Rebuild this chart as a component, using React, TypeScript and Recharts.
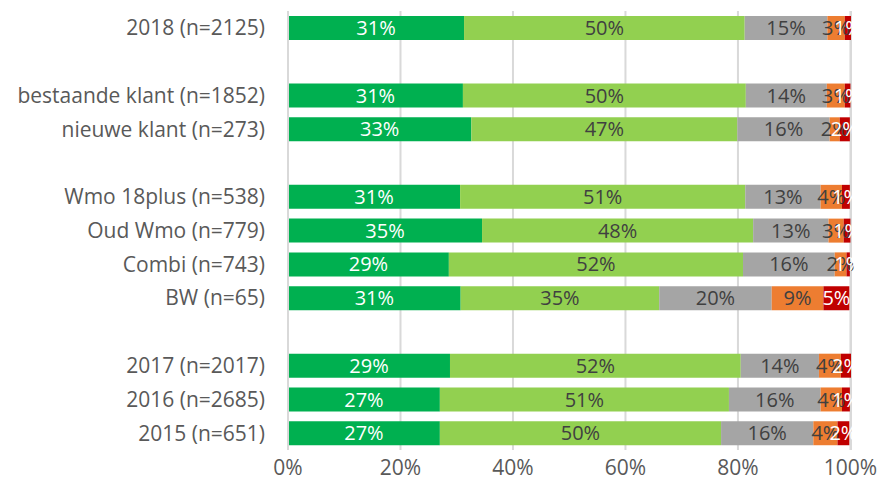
import React from "react";
import { BarChart, Bar, XAxis, YAxis, CartesianGrid, LabelList } from "recharts";

const categories = [
  "2018 (n=2125)",
  "",
  "bestaande klant (n=1852)",
  "nieuwe klant (n=273)",
  "",
  "Wmo 18plus (n=538)",
  "Oud Wmo (n=779)",
  "Combi (n=743)",
  "BW (n=65)",
  "",
  "2017 (n=2017)",
  "2016 (n=2685)",
  "2015 (n=651)",
];

const zeerTevreden = [31.3, null, 31.1, 32.6, null, 30.6, 34.5, 28.6, 30.7, null, 28.8, 27.0, 27.0];
const tevreden = [49.9, null, 50.3, 47.3, null, 50.7, 48.2, 52.3, 35.3, null, 51.7, 51.4, 50.0];
const neutraal = [14.7, null, 14.4, 16.4, null, 13.4, 13.4, 16.3, 20.0, null, 13.9, 16.3, 16.4];
const ontevreden = [3.1, null, 3.2, 1.8, null, 3.8, 2.7, 2.1, 9.2, null, 3.9, 3.8, 4.3];
const zeerOntevreden = [1.1, null, 1.0, 1.8, null, 1.4, 1.2, 0.6, 4.6, null, 1.8, 1.4, 2.1];

const xTicks = [0, 20, 40, 60, 80, 100];

const data = categories.map((c, i) => ({
  id: "row" + i,
  label: c,
  a: zeerTevreden[i],
  b: tevreden[i],
  c: neutraal[i],
  d: ontevreden[i],
  e: zeerOntevreden[i],
}));

const FONT = "'Open Sans', sans-serif";
const TXT = "#595959";

const series = [
  { key: "a", color: "#00B050", text: "#FFFFFF" },
  { key: "b", color: "#92D050", text: "#404040" },
  { key: "c", color: "#A5A5A5", text: "#404040" },
  { key: "d", color: "#ED7D31", text: "#404040" },
  { key: "e", color: "#C00000", text: "#FFFFFF" },
];

const fmt = (v: any) => (v == null ? "" : `${Math.round(Number(v))}%`);

export default function App() {
  return (
    <div style={{ position: "absolute", left: 0, top: 0, width: 881, height: 489, background: "#fff" }}>
      <BarChart
        width={881}
        height={489}
        data={data}
        layout="vertical"
        margin={{ top: 11, right: 30, bottom: 0, left: 0 }}
        barSize={24}
      >
        <CartesianGrid horizontal={false} vertical stroke="#D9D9D9" strokeWidth={2} />
        <XAxis
          type="number"
          domain={[0, 100]}
          ticks={xTicks}
          tickFormatter={(v) => `${v}%`}
          axisLine={false}
          tickLine={false}
          height={39}
          tickSize={0}
          tickMargin={10}
          tick={{ fill: TXT, fontSize: 21, fontFamily: FONT }}
        />
        <YAxis
          type="category"
          dataKey="id"
          width={288}
          tickFormatter={(v, i) => data[i] ? data[i].label : ""}
          axisLine={{ stroke: "#D9D9D9", strokeWidth: 2 }}
          tickLine={false}
          tickSize={0}
          tickMargin={23}
          interval={0}
          tick={{ fill: TXT, fontSize: 21, fontFamily: FONT }}
        />
        {series.map((s) => (
          <Bar key={s.key} dataKey={s.key} stackId="s" fill={s.color} isAnimationActive={false}>
            <LabelList
              dataKey={s.key}
              position="center"
              formatter={fmt}
              fill={s.text}
              style={{ fontSize: 20, fontFamily: FONT }}
            />
          </Bar>
        ))}
      </BarChart>
    </div>
  );
}
